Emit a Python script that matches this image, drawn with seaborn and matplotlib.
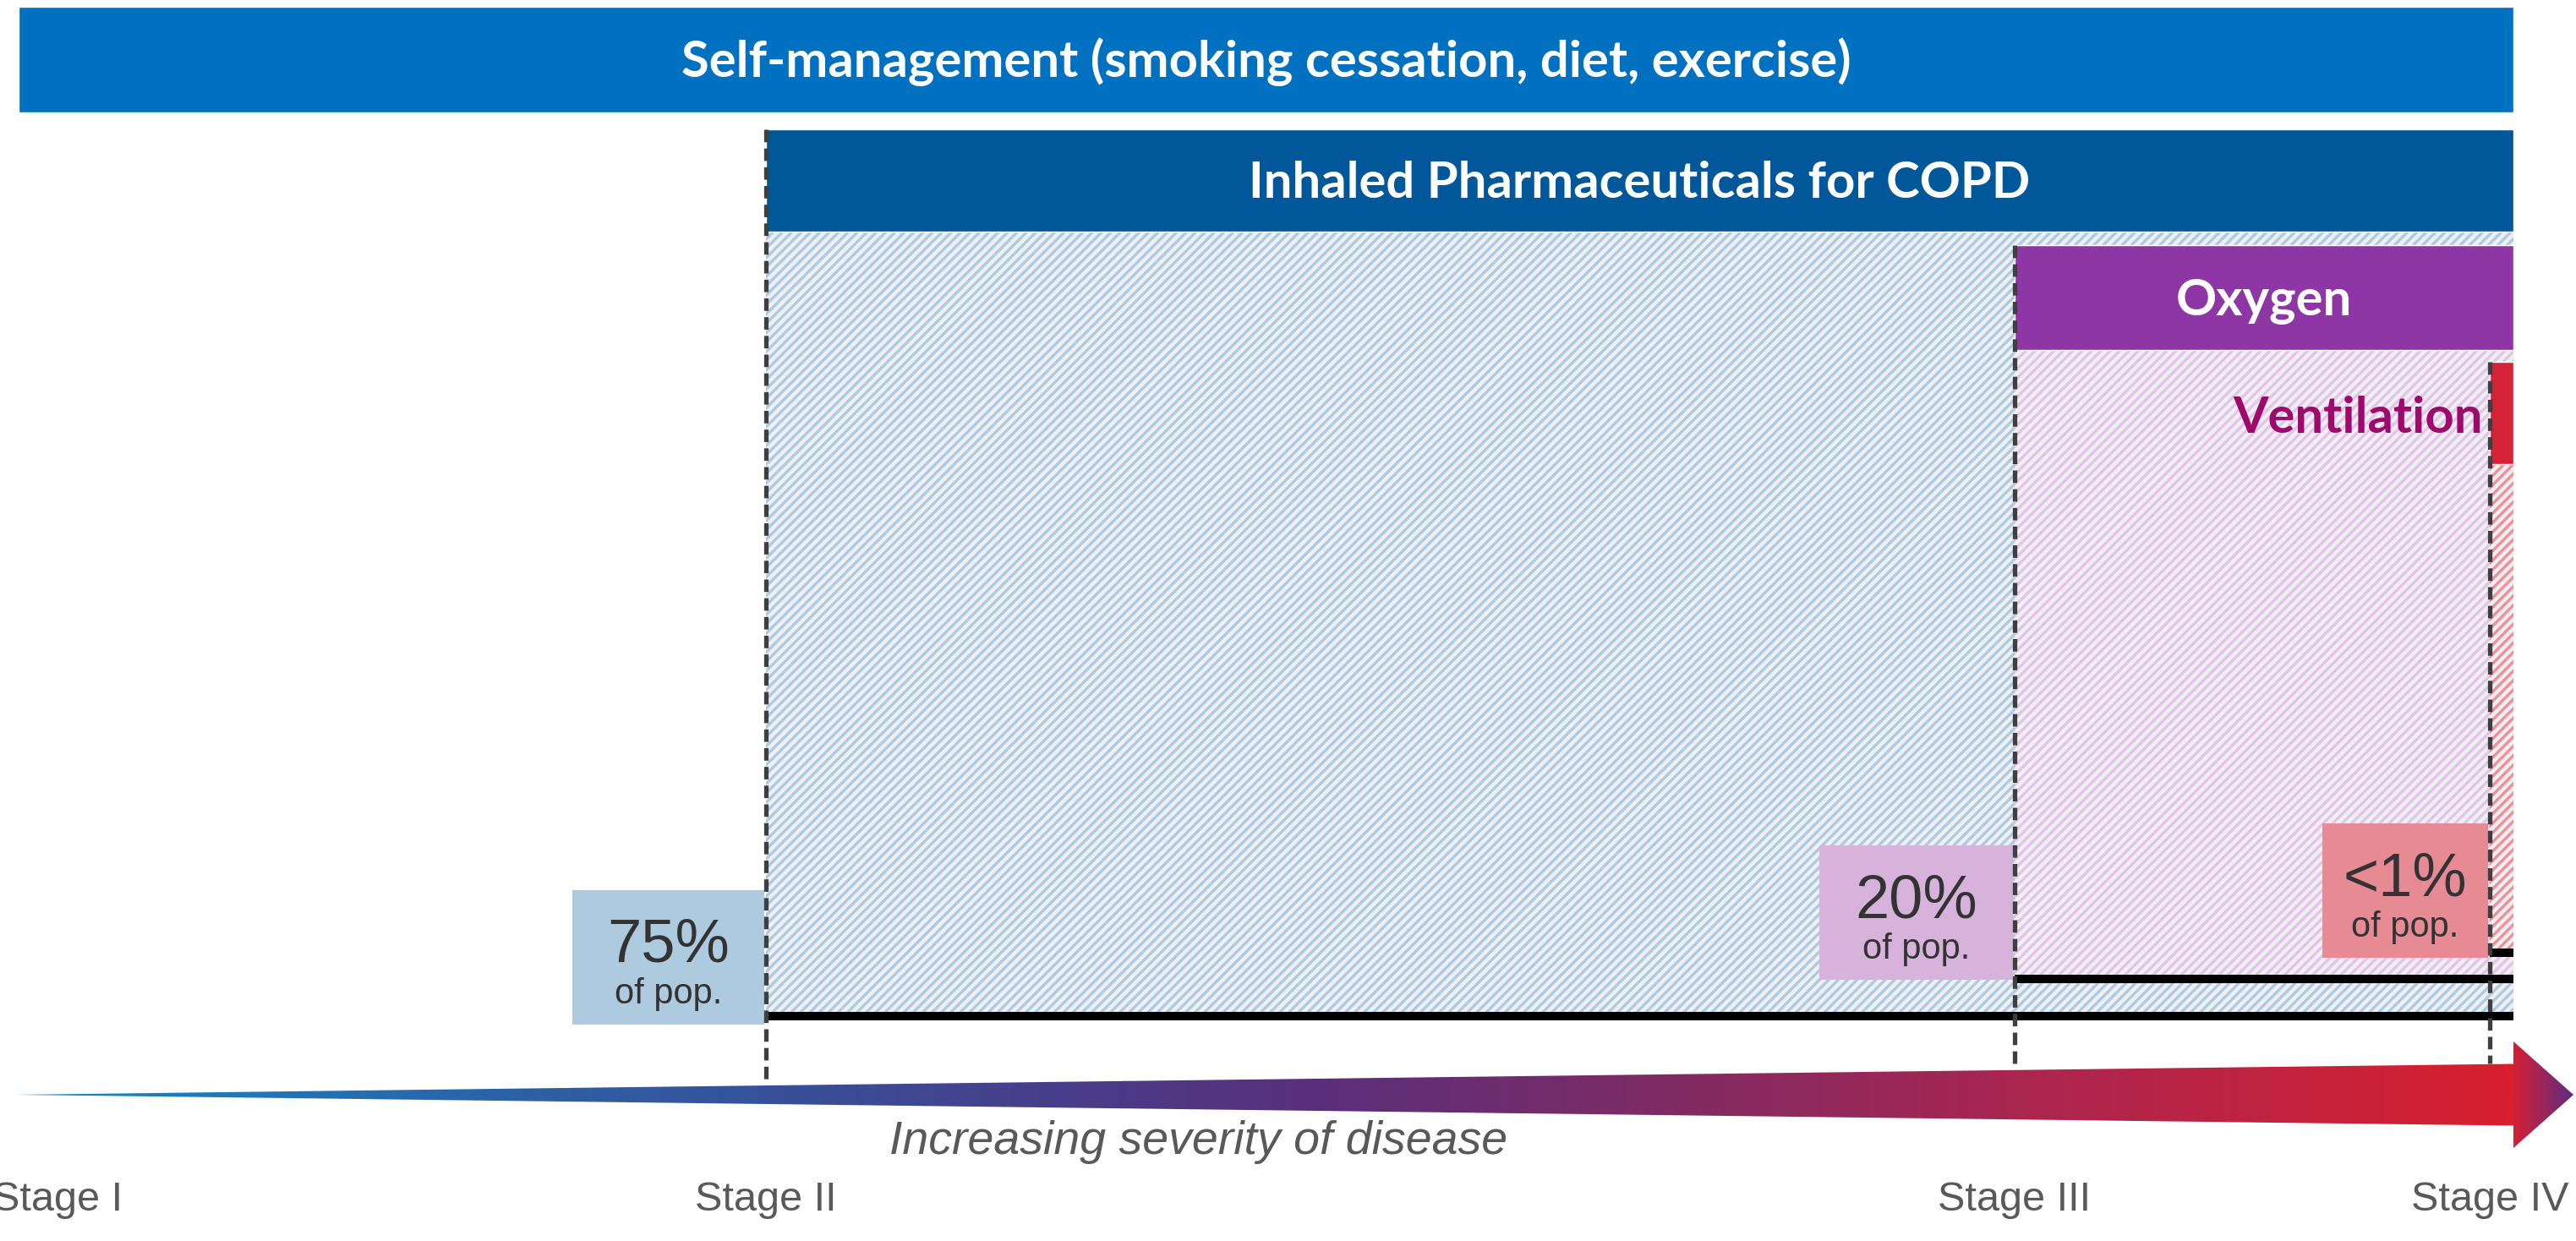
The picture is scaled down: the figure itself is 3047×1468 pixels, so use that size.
import matplotlib
matplotlib.use("Agg")
import numpy as np
import matplotlib.pyplot as plt
from matplotlib.colors import LinearSegmentedColormap
from matplotlib.patches import Rectangle, Polygon
import seaborn as sns

# --- chart content -------------------------------------------------------
STAGES = ["Stage I", "Stage II", "Stage III", "Stage IV"]
TREATMENTS = [
    "Self-management (smoking cessation, diet, exercise)",
    "Inhaled Pharmaceuticals for COPD",
    "Oxygen",
    "Ventilation",
]
TREATMENT_STAGE = [0, 1, 2, 3]          # stage where each treatment starts
POP_SHARE = ["75%", "20%", "<1%"]       # share of patients, stage II / III / IV
POP_NOTE = "of pop."
SEVERITY_LABEL = "Increasing severity of disease"

# --- layout (pixel units, origin top-left) -------------------------------
W, H = 3047, 1468
STAGE_X = [68, 906, 2383, 2945]
SELF_LEFT = 22
RIGHT = 2973
ROW_TOP = [8, 153, 290, 428]
ROW_H = [125, 121, 124, 121]
HATCH_BOTTOM = [None, 1202, 1158, 1127]
DASH_BOTTOM = [None, 1277, 1265, 1258]
BOX_W = [227, 229, 196]
BOX_H = 159
BOX_BOTTOM = [1212, 1159, 1133]
STAGE_LABEL_Y = 1432
ARROW_Y = 1295
ARROW_X0, ARROW_HEAD_X = 19, 3044
ARROW_HALF = 36.5
HEAD_HALF = 63

BAR_COLORS = ["#0070C0", "#00579A", "#8E36A6", "#D42236"]
HATCH_COLORS = [None, "#AECCE1", "#E2C5E8", "#EE9199"]
BOX_COLORS = ["#AECADF", "#D7B3DC", "#E68A93"]
HATCH_BG = "#F0F0F4"
VENT_TEXT = "#9E0A6B"
GREY = "#595959"
DARK = "#333333"
TITLE_SIZE = 43

SHAFT_STOPS = [(19, "#1488C8"), (600, "#2C62A6"), (906, "#37519A"),
               (1300, "#4B3B88"), (1550, "#5A2F7C"), (1900, "#782C68"),
               (2400, "#AA2650"), (2973, "#D8202F")]
HEAD_STOPS = [(0.0, "#D42035"), (1.0, "#5E2C7E")]

sns.set_theme(style="white")
plt.rcParams["font.family"] = ["Liberation Sans", "DejaVu Sans"]
plt.rcParams["hatch.linewidth"] = 2.5

fig = plt.figure(figsize=(W / 100, H / 100), dpi=100)
ax = fig.add_axes([0, 0, 1, 1])
ax.set_axis_off()

# hatched coverage areas
for i in range(1, 4):
    x0 = STAGE_X[TREATMENT_STAGE[i]]
    top = ROW_TOP[i] + ROW_H[i]
    ax.add_patch(Rectangle((x0, top), RIGHT - x0, HATCH_BOTTOM[i] - top,
                           facecolor=HATCH_BG, edgecolor=HATCH_COLORS[i],
                           hatch="///", linewidth=0, zorder=1))

# treatment header bars
for i, name in enumerate(TREATMENTS):
    x0 = SELF_LEFT if TREATMENT_STAGE[i] == 0 else STAGE_X[TREATMENT_STAGE[i]]
    ax.barh(ROW_TOP[i] + ROW_H[i] / 2, RIGHT - x0, left=x0, height=ROW_H[i],
            color=BAR_COLORS[i], zorder=3)
    yb = ROW_TOP[i] + ROW_H[i] / 2 + 21
    if i < 3:
        ax.text((x0 + RIGHT) / 2, yb, name, color="white", fontsize=TITLE_SIZE,
                fontweight="bold", family=["Lato", "DejaVu Sans"],
                ha="center", va="baseline", zorder=4)
    else:
        ax.text(x0 - 8, yb + 3, name, color=VENT_TEXT, fontsize=TITLE_SIZE,
                fontweight="bold", family=["Lato", "DejaVu Sans"],
                ha="right", va="baseline", zorder=4)

# population share boxes and baseline rules
for j, share in enumerate(POP_SHARE):
    i = j + 1
    xs = STAGE_X[TREATMENT_STAGE[i]]
    bx = xs - 2 - BOX_W[j]
    btop = BOX_BOTTOM[j] - BOX_H
    ax.add_patch(Rectangle((bx, btop), BOX_W[j], BOX_H,
                           facecolor=BOX_COLORS[j], edgecolor="none", zorder=5))
    cx = bx + BOX_W[j] / 2
    ax.text(cx, btop + 85, share, fontsize=52, color=DARK,
            ha="center", va="baseline", zorder=6)
    ax.text(cx, btop + 134, POP_NOTE, fontsize=30, color=DARK,
            ha="center", va="baseline", zorder=6)
    ax.plot([xs, RIGHT], [HATCH_BOTTOM[i], HATCH_BOTTOM[i]], color="black",
            lw=7.2, solid_capstyle="butt", zorder=6)
    ax.plot([xs, xs], [ROW_TOP[i], DASH_BOTTOM[i]], color="#3F3F3F",
            lw=3.8, dashes=(2.8, 1.4), zorder=7)

# severity arrow with colour gradient
shaft = Polygon([(ARROW_X0, ARROW_Y), (RIGHT, ARROW_Y - ARROW_HALF),
                 (RIGHT, ARROW_Y + ARROW_HALF)], closed=True,
                facecolor="none", edgecolor="none")
head = Polygon([(RIGHT, ARROW_Y - HEAD_HALF), (ARROW_HEAD_X, ARROW_Y),
                (RIGHT, ARROW_Y + HEAD_HALF)], closed=True,
               facecolor="none", edgecolor="none")
ax.add_patch(shaft)
ax.add_patch(head)
span = RIGHT - ARROW_X0
shaft_cmap = LinearSegmentedColormap.from_list(
    "shaft", [((x - ARROW_X0) / span, c) for x, c in SHAFT_STOPS])
head_cmap = LinearSegmentedColormap.from_list("head", HEAD_STOPS)
grad = np.linspace(0, 1, 1024)[None, :]
im = ax.imshow(grad, cmap=shaft_cmap, aspect="auto", interpolation="bilinear",
               extent=[ARROW_X0, RIGHT, ARROW_Y + HEAD_HALF, ARROW_Y - HEAD_HALF],
               zorder=2)
im.set_clip_path(shaft)
im2 = ax.imshow(grad, cmap=head_cmap, aspect="auto", interpolation="bilinear",
                extent=[RIGHT, ARROW_HEAD_X, ARROW_Y + HEAD_HALF, ARROW_Y - HEAD_HALF],
                zorder=2)
im2.set_clip_path(head)

ax.text(1418, 1365, SEVERITY_LABEL, fontsize=40, style="italic", color=GREY,
        ha="center", va="baseline")
for x, s in zip(STAGE_X, STAGES):
    ax.text(x, STAGE_LABEL_Y, s, fontsize=35, color=GREY,
            ha="center", va="baseline")

ax.set_xlim(0, W)
ax.set_ylim(H, 0)
fig.savefig("out.png", dpi=100, facecolor="white")
